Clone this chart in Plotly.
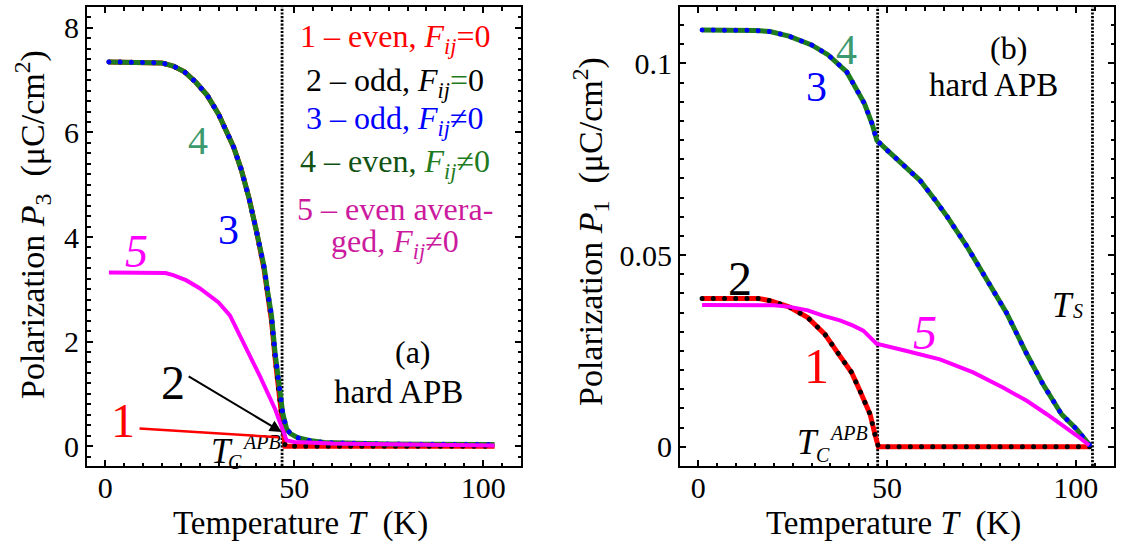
import plotly.graph_objects as go

# ---------------- data: panel (a) ----------------
T_a1 = [1, 5, 10, 15, 18, 21, 24, 27, 30, 32, 34, 36, 38, 40, 42, 43, 44, 45, 46, 47, 47.6, 50, 60, 70, 80, 90, 103]
P_a1 = [7.35, 7.35, 7.35, 7.33, 7.27, 7.16, 6.96, 6.71, 6.35, 6.06, 5.72, 5.29, 4.76, 4.12, 3.40, 2.90, 2.40, 1.65, 0.95, 0.35, 0.0, 0, 0, 0, 0, 0, 0]
T_a2 = T_a1
P_a2 = P_a1
T_a4 = [1, 5, 10, 15, 18, 21, 24, 27, 30, 32, 34, 36, 38, 40, 42, 43, 44, 45, 46, 47, 48, 49, 51, 54, 58, 65, 75, 85, 95, 103]
P_a4 = [7.35, 7.35, 7.35, 7.33, 7.27, 7.16, 6.96, 6.71, 6.35, 6.06, 5.72, 5.29, 4.76, 4.12, 3.45, 2.95, 2.5, 1.75, 1.1, 0.62, 0.33, 0.24, 0.16, 0.11, 0.07, 0.05, 0.04, 0.035, 0.03, 0.03]
T_a3 = T_a4
P_a3 = P_a4
T_a5 = [1, 5, 10, 16, 18, 21.5, 25, 28, 30, 33, 35, 37, 39, 41, 42, 44, 45, 46, 47, 48, 50, 55, 60, 70, 80, 90, 103]
P_a5 = [3.32, 3.32, 3.32, 3.31, 3.27, 3.17, 3.02, 2.87, 2.75, 2.50, 2.22, 1.93, 1.62, 1.33, 1.18, 0.85, 0.70, 0.50, 0.30, 0.11, 0.08, 0.06, 0.05, 0.04, 0.03, 0.02, 0.01]
TC_a = 46.8

# ---------------- data: panel (b) ----------------
T_b4 = [1, 5, 10, 15, 19, 24, 30, 34.4, 39.3, 42.4, 44, 46, 47.3, 50.3, 54.7, 58.7, 62.7, 66, 71, 75.5, 81.6, 87, 91.3, 96.2, 100.2, 103.7]
P_b4 = [0.1087, 0.1087, 0.1087, 0.1086, 0.1083, 0.1071, 0.1048, 0.1022, 0.0978, 0.0925, 0.0895, 0.0843, 0.0799, 0.0771, 0.0732, 0.0695, 0.0644, 0.0599, 0.0525, 0.0449, 0.0350, 0.0242, 0.0163, 0.0085, 0.0046, 0.0004]
T_b3 = T_b4
P_b3 = P_b4
T_b1 = [1, 5, 10, 16, 19, 24, 29, 33.5, 37.3, 40.6, 42.8, 45.5, 46.8, 47.7, 50, 60, 70, 80, 90, 100, 103.7]
P_b1 = [0.0387, 0.0387, 0.0387, 0.0387, 0.0381, 0.0365, 0.0337, 0.0294, 0.0240, 0.0194, 0.0146, 0.0085, 0.0032, 0.0, 0, 0, 0, 0, 0, 0, 0]
T_b2 = T_b1
P_b2 = P_b1
T_b5 = [1, 10, 20, 24.3, 29, 33, 37.5, 41, 43.7, 47.2, 50, 55.2, 64, 72.8, 80.8, 87, 92.3, 97.5, 101, 103.5]
P_b5 = [0.0370, 0.0370, 0.0369, 0.0365, 0.0356, 0.0342, 0.0330, 0.0316, 0.0303, 0.0269, 0.0263, 0.0250, 0.0228, 0.0194, 0.0154, 0.0120, 0.0085, 0.0050, 0.0024, 0.0004]
TC_b = 47.5
TS_b = 104.4

x_ticks = [0, 50, 100]
ya_ticks = [0, 2, 4, 6, 8]
yb_ticks = [0, 0.05, 0.1]
yb_text = ["0", "0.05", "0.1"]

RED = "#ff0000"
BLACK = "#000000"
BLUE = "#0000ff"
GREEN = "#1e7b1e"
DKGREEN = "#125212"
LBLGREEN = "#3c9a6e"
MAG = "#ff00ff"
MAGTXT = "#cc1a9e"
FONT = "Liberation Serif, Times New Roman, serif"

DOTS = "0.01px,11.2px"
VDOTS = "2.2px,1.5px"

fig = go.Figure()

def add_set(T1, P1, T2, P2, T4, P4, T3, P3, T5, P5, xa, ya):
    fig.add_trace(go.Scatter(x=T1, y=P1, mode="lines", line=dict(color=RED, width=5), xaxis=xa, yaxis=ya))
    fig.add_trace(go.Scatter(x=T2, y=P2, mode="lines", line=dict(color=BLACK, width=5, dash=DOTS), xaxis=xa, yaxis=ya))
    fig.add_trace(go.Scatter(x=T4, y=P4, mode="lines", line=dict(color=GREEN, width=5), xaxis=xa, yaxis=ya))
    fig.add_trace(go.Scatter(x=T3, y=P3, mode="lines", line=dict(color=BLUE, width=5, dash=DOTS), xaxis=xa, yaxis=ya))
    fig.add_trace(go.Scatter(x=T5, y=P5, mode="lines", line=dict(color=MAG, width=4), xaxis=xa, yaxis=ya))

add_set(T_a1, P_a1, T_a2, P_a2, T_a4, P_a4, T_a3, P_a3, T_a5, P_a5, "x", "y")
add_set(T_b1, P_b1, T_b2, P_b2, T_b4, P_b4, T_b3, P_b3, T_b5, P_b5, "x2", "y2")

def axis_common():
    return dict(showline=True, linecolor="black", linewidth=2, mirror="ticks",
                ticks="inside", ticklen=6, tickwidth=1.5, tickcolor="black",
                showgrid=False, zeroline=False,
                tickfont=dict(family=FONT, size=30, color="black"))

def minor(dt):
    return dict(dtick=dt, tick0=0, ticks="inside", ticklen=3.5, tickcolor="black")

fig.update_layout(
    width=1121, height=554, margin=dict(l=0, r=0, t=0, b=0),
    font=dict(family=FONT, size=30, color="black"),
    paper_bgcolor="white", plot_bgcolor="white", showlegend=False,
    xaxis=dict(domain=[87/1121, 521/1121], range=[-4.8, 110], tickvals=x_ticks,
               ticklabelstandoff=-6, minor=minor(5), **axis_common()),
    yaxis=dict(domain=[1-466/554, 1-7/554], range=[-0.38, 8.4], tickvals=ya_ticks,
               minor=minor(0.2), **axis_common()),
    xaxis2=dict(domain=[680/1121, 1114/1121], range=[-4.85, 110.1], tickvals=x_ticks, anchor="y2",
                ticklabelstandoff=-6, minor=minor(5), **axis_common()),
    yaxis2=dict(domain=[1-466/554, 1-7/554], range=[-0.005, 0.1147], tickvals=yb_ticks, ticktext=yb_text,
                anchor="x2", minor=minor(0.005), **axis_common()),
)

# vertical dotted lines
for xv, xr, yr in [(TC_a, "x", "y domain"), (TC_b, "x2", "y2 domain"), (TS_b, "x2", "y2 domain")]:
    fig.add_shape(type="line", x0=xv, x1=xv, y0=0, y1=1, xref=xr, yref=yr, layer="below",
                  line=dict(color="black", width=2.8, dash=VDOTS))

ann = []
def txt(x, y, text, size, color="black", xr="x", yr="y", **kw):
    ann.append(dict(x=x, y=y, xref=xr, yref=yr, text=text, showarrow=False,
                    xanchor="center", yanchor="middle",
                    font=dict(family=FONT, size=size, color=color), **kw))

# legend block (panel a)
LX = 76.6
txt(LX, 7.80, "1 – even, <i>F<sub>ij</sub></i>=0", 32, RED)
txt(LX, 6.96, "2 – odd, <i>F<sub>ij</sub></i><span style='color:%s'>=</span>0" % GREEN, 32, BLACK)
txt(LX, 6.23, "3 – odd, <i>F<sub>ij</sub></i>≠0", 32, BLUE)
txt(LX, 5.40, "4 – even, <span style='color:%s'><i>F<sub>ij</sub></i>≠0</span>" % GREEN, 32, DKGREEN)
txt(LX, 4.54, "5 – even avera-", 32, MAGTXT)
txt(LX, 3.87, "ged, <i>F<sub>ij</sub></i>≠0", 32, MAGTXT)

# curve labels panel a
txt(24.5, 5.85, "4", 40, LBLGREEN)
txt(32.5, 4.13, "3", 42, BLUE)
txt(8.3, 3.73, "<i>5</i>", 46, MAG)
txt(18.0, 1.22, "2", 48, BLACK)
txt(4.8, 0.49, "1", 48, RED)
txt(81.5, 1.80, "(a)", 32)
txt(77.5, 1.03, "hard APB", 33)
txt(30.8, -0.11, "<i>T</i>", 35)
txt(34.3, -0.31, "<i>C</i>", 20)
txt(41.4, 0.08, "<i>APB</i>", 20)

# arrows panel a
ann.append(dict(x=46.7, y=0.27, ax=21.7, ay=1.35, xref="x", yref="y", axref="x", ayref="y",
                text="", showarrow=True, arrowhead=2, arrowsize=1.2, arrowwidth=2, arrowcolor="black"))
ann.append(dict(x=45.8, y=0.17, ax=8.7, ay=0.34, xref="x", yref="y", axref="x", ayref="y",
                text="", showarrow=True, arrowhead=0, arrowwidth=2.5, arrowcolor=RED))

# panel b labels
txt(39.3, 0.1035, "4", 42, LBLGREEN, "x2", "y2")
txt(31.3, 0.0939, "3", 42, BLUE, "x2", "y2")
txt(82.1, 0.1039, "(b)", 32, "black", "x2", "y2")
txt(78.1, 0.0943, "hard APB", 33, "black", "x2", "y2")
txt(11.0, 0.0438, "2", 48, BLACK, "x2", "y2")
txt(31.3, 0.0211, "1", 50, RED, "x2", "y2")
txt(60.0, 0.0298, "<i>5</i>", 48, MAG, "x2", "y2")
txt(96.6, 0.0368, "<i>T</i>", 35, "black", "x2", "y2")
txt(100.6, 0.0355, "<i>S</i>", 20, "black", "x2", "y2")
txt(29.1, 0.00105, "<i>T</i>", 35, "black", "x2", "y2")
txt(33.1, -0.0020, "<i>C</i>", 20, "black", "x2", "y2")
txt(39.7, 0.00366, "<i>APB</i>", 20, "black", "x2", "y2")

# axis titles as paper annotations
def ptxt(x, y, text, size, angle=0):
    ann.append(dict(x=x, y=y, xref="paper", yref="paper", text=text, showarrow=False, textangle=angle,
                    xanchor="center", yanchor="middle",
                    font=dict(family=FONT, size=size, color="black")))

ptxt(300/1121, 1-523/554, "Temperature <i>T</i>\u00a0 (K)", 33)
ptxt(893/1121, 1-523/554, "Temperature <i>T</i>\u00a0 (K)", 33)
ptxt(32/1121, 1-225/554, "Polarization <i>P</i><sub>3</sub>\u00a0 (μC/cm<sup>2</sup>)", 34, -90)
ptxt(591/1121, 1-232/554, "Polarization <i>P</i><sub>1</sub>\u00a0 (μC/cm<sup>2</sup>)", 34, -90)

fig.update_layout(annotations=ann)

post = """
var gd = document.getElementById('{plot_id}');
function roundDots(){
  gd.querySelectorAll('path').forEach(function(p){
    var d = p.style.strokeDasharray || p.getAttribute('stroke-dasharray') || '';
    if (d.indexOf('0.01') >= 0) { p.style.strokeLinecap = 'round'; }
  });
}
roundDots();
if (gd.on) { gd.on('plotly_afterplot', roundDots); }
"""

fig.write_html("out.html", post_script=post)
